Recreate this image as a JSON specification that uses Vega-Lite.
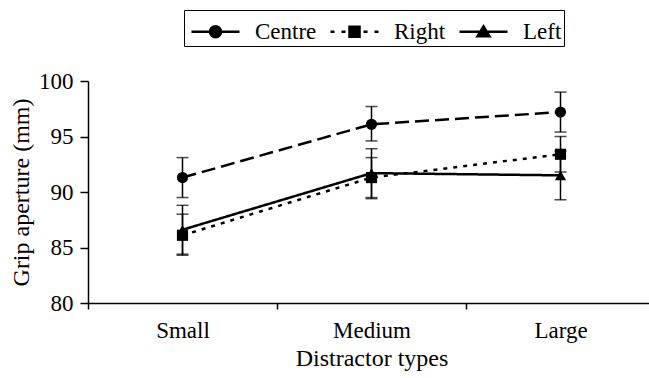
{
  "$schema": "https://vega.github.io/schema/vega-lite/v6.json",
  "width": 567,
  "height": 222,
  "autosize": "none",
  "padding": {"left": 88, "top": 81, "right": 0, "bottom": 75},
  "background": "white",
  "config": {
    "view": {"stroke": null},
    "font": "Liberation Serif",
    "axis": {
      "grid": false,
      "domainColor": "black",
      "domainWidth": 1.5,
      "tickColor": "black",
      "tickWidth": 1.5,
      "labelColor": "black",
      "titleColor": "black",
      "labelFont": "Liberation Serif",
      "titleFont": "Liberation Serif",
      "labelFontSize": 23,
      "titleFontSize": 24,
      "titleFontWeight": "normal"
    },
    "legend": {"labelFont": "Liberation Serif"}
  },
  "data": {
    "values": [
      {"type": "Small", "series": "Centre", "mean": 91.3, "lo": 89.5, "hi": 93.1},
      {"type": "Medium", "series": "Centre", "mean": 96.1, "lo": 94.6, "hi": 97.7},
      {"type": "Large", "series": "Centre", "mean": 97.2, "lo": 95.4, "hi": 99.0},
      {"type": "Small", "series": "Right", "mean": 86.1, "lo": 84.3, "hi": 88.0},
      {"type": "Medium", "series": "Right", "mean": 91.3, "lo": 89.4, "hi": 93.1},
      {"type": "Large", "series": "Right", "mean": 93.4, "lo": 91.8, "hi": 95.0},
      {"type": "Small", "series": "Left", "mean": 86.6, "lo": 84.4, "hi": 88.8},
      {"type": "Medium", "series": "Left", "mean": 91.7, "lo": 89.5, "hi": 93.9},
      {"type": "Large", "series": "Left", "mean": 91.5, "lo": 89.3, "hi": 93.7}
    ]
  },
  "encoding": {
    "x": {
      "field": "type",
      "type": "nominal",
      "sort": ["Small", "Medium", "Large"],
      "scale": {"paddingInner": 0, "paddingOuter": 0},
      "axis": {
        "title": "Distractor types",
        "labelAngle": 0,
        "tickBand": "extent",
        "tickSize": 6,
        "labelPadding": 10,
        "titlePadding": 4
      }
    }
  },
  "resolve": {"scale": {"shape": "independent"}},
  "layer": [
    {
      "mark": {"type": "rule", "color": "black", "strokeWidth": 1.5},
      "encoding": {
        "y": {"field": "lo", "type": "quantitative", "scale": {"domain": [80, 100]}},
        "y2": {"field": "hi"}
      }
    },
    {
      "mark": {"type": "tick", "color": "black", "thickness": 1.5, "size": 12},
      "encoding": {"y": {"field": "lo", "type": "quantitative", "scale": {"domain": [80, 100]}}}
    },
    {
      "mark": {"type": "tick", "color": "black", "thickness": 1.5, "size": 12},
      "encoding": {"y": {"field": "hi", "type": "quantitative", "scale": {"domain": [80, 100]}}}
    },
    {
      "mark": {"type": "line", "color": "black", "strokeWidth": 2.5},
      "encoding": {
        "y": {
          "field": "mean",
          "type": "quantitative",
          "scale": {"domain": [80, 100]},
          "axis": {
            "title": "Grip aperture (mm)",
            "values": [80, 85, 90, 95, 100],
            "tickSize": 8,
            "labelPadding": 7,
            "titlePadding": 5
          }
        },
        "detail": {"field": "series"},
        "strokeDash": {
          "field": "series",
          "type": "nominal",
          "scale": {"domain": ["Centre", "Right", "Left"], "range": [[14, 6], [4, 6], [1, 0]]},
          "legend": null
        }
      }
    },
    {
      "mark": {"type": "point", "filled": true, "color": "black", "opacity": 1, "size": 125},
      "encoding": {
        "y": {"field": "mean", "type": "quantitative", "scale": {"domain": [80, 100]}},
        "shape": {
          "field": "series",
          "type": "nominal",
          "scale": {"domain": ["Centre", "Right", "Left"], "range": ["circle", "square", "triangle-up"]},
          "legend": null
        }
      }
    },
    {
      "mark": {"type": "point", "filled": true, "fill": "black", "stroke": "black", "strokeWidth": 2.5, "opacity": 0},
      "encoding": {
        "y": {"field": "mean", "type": "quantitative", "scale": {"domain": [80, 100]}},
        "shape": {
          "field": "series",
          "type": "nominal",
          "sort": ["Centre", "Right", "Left"],
          "scale": {"range": [
            "M-0.778,0H1.889M0.25,0A0.306,0.306,0,1,1,0.862,0A0.306,0.306,0,1,1,0.25,0Z",
            "M-0.778,0H-0.556M-0.167,0H0.056M1.056,0H1.278M1.667,0H1.889M0.278,-0.278H0.834V0.278H0.278Z",
            "M-0.778,0H1.889M0.556,-0.3L0.889,0.25H0.222Z"
          ]},
          "legend": {
            "title": null,
            "orient": "none",
            "legendX": 96,
            "legendY": -71,
            "direction": "horizontal",
            "strokeColor": "black",
            "padding": 2,
            "labelFontSize": 23,
            "labelColor": "black",
            "symbolSize": 1296,
            "symbolOpacity": 1,
            "symbolStrokeWidth": 2.5,
            "columnPadding": 8,
            "labelOffset": 30
          }
        }
      }
    }
  ]
}
